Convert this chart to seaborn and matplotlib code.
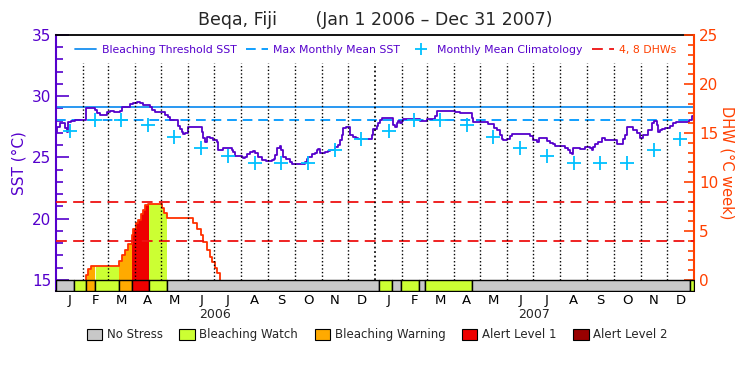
import numpy as np
import pandas as pd
import matplotlib
matplotlib.use("Agg")
import matplotlib.pyplot as plt
import seaborn as sns
from matplotlib.lines import Line2D
from matplotlib.patches import Patch
from matplotlib.ticker import FixedLocator
import matplotlib.transforms as mtrans

# ---- data ----
title = "Beqa, Fiji       (Jan 1 2006 \u2013 Dec 31 2007)"
mmm = 28.1          # max monthly mean SST
threshold = 29.1    # bleaching threshold SST
dhw_lines = [4, 8]

# SST, days since 1 Jan 2006
sst_day = [0, 1.5, 4.6, 10.3, 12.2, 14.1, 17, 21.7, 34.3, 45, 47, 50.3, 54, 58, 62, 66,
           73.2, 75.1, 84.7, 88, 92.3, 96, 99.9, 104, 107.6, 109.5, 113.3, 124.7, 128.5,
           130.4, 140, 141.9, 143.8, 145.7, 148, 151.4, 153, 164.8, 166.5, 168.6, 170.5,
           172.4, 176.2, 180, 183.8, 185.7, 189, 191.4, 201, 202.5, 204.8, 212.4, 214.3,
           216.2, 218, 222, 225.8, 228, 231.5, 235.3, 240, 244.9, 247, 249, 250.6, 252.5,
           256.3, 257.8, 259.4, 263, 267.7, 269.6, 284.9, 286.8, 288.7, 292.6, 296, 298.3,
           300.2, 302.1, 305, 307.8, 311, 313.5, 319.2, 323, 325, 326.9, 328.7, 331.8,
           334.5, 336.4, 340, 343, 345.9, 359.3, 361.2, 363.1, 366.9, 368.8, 370.7, 372.6,
           384.1, 385.9, 387.5, 389.8, 391.5, 393.6, 395.5, 397.4, 414.5, 416.5, 422.2,
           424.1, 431.7, 433.6, 435.6, 456.5, 458.5, 460, 462.2, 473.7, 475.6, 477.5,
           492.8, 494.6, 498.5, 501.1, 504.2, 508, 510, 511.8, 515.7, 519, 521.4, 540.5,
           542.5, 546.2, 550, 553, 557.6, 561.4, 565.2, 569, 570.9, 580.4, 582.4, 586.2,
           588, 590, 591.9, 599.5, 602.6, 605.3, 609.1, 611, 612.9, 614.8, 616.7, 620.5,
           624.4, 628.1, 639.6, 641.5, 647.3, 649, 651, 653.7, 656.8, 660.6, 664.4, 668.2,
           672, 675.9, 677.7, 681.6, 684.2, 687.3, 689.1, 691, 693, 696.8, 700, 702.5,
           706.3, 709.4, 721.6, 724.6, 727.3, 730]
sst_val = [27.05, 27.45, 27.8, 27.4, 27.05, 27.9, 28.0, 28.1, 29.0, 28.85, 28.65, 28.45,
           28.5, 28.7, 28.8, 28.75, 28.8, 29.1, 29.35, 29.45, 29.55, 29.45, 29.3, 29.3,
           29.15, 28.9, 28.74, 28.5, 28.3, 28.06, 27.6, 27.3, 27.1, 26.9, 27.0, 27.46,
           27.5, 27.45, 27.1, 26.6, 26.3, 26.7, 26.62, 26.45, 26.3, 25.6, 25.62, 25.75,
           25.6, 25.45, 25.12, 25.05, 24.93, 25.07, 25.26, 25.47, 25.53, 25.34, 25.07,
           24.8, 24.74, 24.71, 24.8, 24.88, 25.2, 25.75, 25.96, 25.6, 25.07, 24.88, 24.66,
           24.47, 24.6, 24.85, 25.07, 25.26, 25.34, 25.61, 25.7, 25.34, 25.34, 25.47,
           25.5, 25.61, 25.88, 26.02, 26.4, 26.83, 27.38, 27.51, 27.5, 26.83, 26.7, 26.6,
           26.51, 26.51, 26.85, 27.3, 27.6, 27.8, 28.1, 28.25, 28.2, 27.65, 27.5, 27.8,
           27.95, 27.8, 28.0, 28.11, 28.11, 27.95, 27.95, 28.11, 28.15, 28.41, 28.79,
           28.75, 28.7, 28.75, 28.65, 28.6, 28.2, 27.87, 27.87, 27.7, 27.7, 27.38, 27.25,
           26.85, 26.55, 26.43, 26.5, 26.75, 26.89, 26.89, 26.75, 26.43, 26.29, 26.56,
           26.56, 26.35, 26.15, 26.07, 25.97, 25.97, 25.8, 25.6, 25.4, 25.26, 25.75, 25.7,
           25.7, 25.88, 25.88, 25.8, 25.61, 25.88, 26.07, 26.29, 26.56, 26.43, 26.43,
           26.07, 26.07, 26.5, 26.83, 27.46, 27.46, 27.24, 26.97, 26.62, 26.83, 26.83,
           27.24, 27.79, 28.0, 27.65, 27.11, 27.25, 27.32, 27.38, 27.43, 27.6, 27.79,
           27.87, 27.87, 28.06, 28.41, 28.47]

# monthly mean climatology, Jan..Dec
clim_val = [27.16, 28.06, 28.06, 27.65, 26.7, 25.75, 25.15, 24.52, 24.52, 24.52, 25.61, 26.51]

# degree heating weeks (2006 event)
dhw_day = [34.3, 34.3, 37, 39.7, 72.4, 75.5, 78.5, 82, 86.5, 88.5, 91.5, 93.8, 96.9, 99.9,
           102.2, 104.9, 121.3, 123.6, 126.6, 156.4, 161, 165.6, 167.8, 172.4, 176.2,
           178.5, 182.3, 184.6, 187.6]
dhw_val = [0, 0.5, 1.1, 1.45, 1.95, 2.55, 3.1, 3.7, 4.6, 5.2, 5.8, 6.15, 6.7, 7.15, 7.65,
           7.8, 7.3, 6.8, 6.3, 5.8, 5.2, 4.6, 3.9, 3.05, 2.3, 1.8, 1.2, 0.7, 0]

# stress level bar
stress_start = [0, 20.9, 34.3, 45, 72.4, 86.6, 106.7, 127.3, 369.9, 384.8, 395.1, 415.6,
                422.5, 476.3, 725.7]
stress_end = [20.9, 34.3, 45, 72.4, 86.6, 106.7, 127.3, 369.9, 384.8, 395.1, 415.6,
              422.5, 476.3, 725.7, 730]
stress_level = [0, 1, 2, 1, 2, 3, 1, 0, 1, 0, 1, 0, 1, 0, 1]
stress_names = ["No Stress", "Bleaching Watch", "Bleaching Warning", "Alert Level 1", "Alert Level 2"]
stress_colors = ["#c8c8c8", "#ccff33", "#ffaa00", "#ee0000", "#990000"]

month_letters = list("JFMAMJJASOND")
years = ["2006", "2007"]

# ---- colours ----
purple = "#5500cc"
orange = "#ff4000"

sns.set_style("white")
plt.rcParams["font.family"] = ["DejaVu Sans"]

fig = plt.figure(figsize=(7.5, 3.75), dpi=100)
ax = fig.add_axes([56 / 750, 1 - 291 / 375, 638 / 750, 256 / 375])
ax2 = ax.twinx()

# month geometry
t0 = pd.Timestamp("2006-01-01")
mstarts = pd.date_range("2006-01-01", "2008-01-01", freq="MS")
mdays = np.array([(d - t0).days for d in mstarts], dtype=float)
mid = (mdays[:-1] + mdays[1:]) / 2

# SST and climatology
ax.axhline(threshold, color="#1890f0", lw=1.3, zorder=2)
ax.axhline(mmm, color="#10a0ff", lw=1.4, ls=(0, (5, 3)), zorder=2)
sns.lineplot(x=sst_day, y=sst_val, ax=ax, color=purple, lw=1.3,
             drawstyle="steps-post", estimator=None, sort=False, zorder=4)
sns.scatterplot(x=mid, y=clim_val * 2, ax=ax, marker="+", s=90, color="#00c0ff",
                linewidth=1.3, zorder=5)

# DHW fills coloured by stress level
ddays = np.array(dhw_day)
dvals = np.array(dhw_val)
for s, e, lv in zip(stress_start, stress_end, stress_level):
    if lv == 0:
        continue
    g = np.arange(s, e + 0.01, 0.1)
    idx = np.searchsorted(ddays, g, side="right") - 1
    v = np.where(idx >= 0, dvals[np.clip(idx, 0, None)], 0)
    if v.max() > 0:
        ax2.fill_between(g, 0, v, step="post", color=stress_colors[lv], lw=0, zorder=1)
ax2.plot(dhw_day, dhw_val, color="#ff3000", lw=1.3, drawstyle="steps-post", zorder=3)
for lv in dhw_lines:
    ax2.axhline(lv, color="#ee1111", lw=1.3, ls=(0, (6, 3.5)), zorder=3)

# month dotted lines
for d in mdays[1:-1]:
    ax2.vlines(d, 0, 22.1, colors="black", lw=1.25 if d == 365 else 1.0,
               linestyles=(0, (1, 1.6)), zorder=4)

# stress bar
bot = -1.1225
for s, e, lv in zip(stress_start, stress_end, stress_level):
    ax2.broken_barh([(s, e - s)], (bot, -bot), facecolors=stress_colors[lv],
                    edgecolor="black", lw=1.0, zorder=5)

# axes
ax.set_xlim(0, 730)
ax.set_ylim(15 + bot * 0.8, 35)
ax2.set_ylim(bot, 25)

ax.set_yticks([15, 20, 25, 30, 35])
ax.yaxis.set_minor_locator(FixedLocator([v for v in range(15, 36) if v % 5]))
ax.tick_params(axis="y", which="major", direction="in", length=9.5, width=1.2,
               colors=purple, labelsize=11, left=True)
ax.tick_params(axis="y", which="minor", direction="in", length=5, width=1.2,
               colors=purple, left=True)
ax2.set_yticks([0, 5, 10, 15, 20, 25])
ax2.yaxis.set_minor_locator(FixedLocator([v for v in range(0, 26) if v % 5]))
ax2.tick_params(axis="y", which="major", direction="in", length=7.5, width=1.2,
                colors=orange, labelsize=11, right=True)
ax2.tick_params(axis="y", which="minor", direction="in", length=4.5, width=1.2,
                colors=orange, right=True)

ax.set_xticks(mid)
ax.set_xticklabels(month_letters * 2)
ax.tick_params(axis="x", length=0, pad=2, labelsize=9.5, colors="black")
ymark = mtrans.blended_transform_factory(ax.transData, ax.transAxes)
for i, yr in enumerate(years):
    ax.text((mdays[12 * i] + mdays[12 * i + 12]) / 2, -0.09, yr, transform=ymark,
            ha="center", va="center", fontsize=9)

ax.set_ylabel("SST (\u00b0C)", color=purple, fontsize=11, labelpad=4)
ax2.set_ylabel("DHW (\u00b0C week)", color=orange, fontsize=10.5, rotation=270,
               va="bottom", labelpad=1)

for side in ["top", "bottom"]:
    ax.spines[side].set_color("black")
    ax.spines[side].set_linewidth(1.3)
    ax2.spines[side].set_visible(False)
ax.spines["left"].set_color(purple)
ax.spines["left"].set_linewidth(1.5)
ax.spines["right"].set_visible(False)
ax2.spines["left"].set_visible(False)
ax2.spines["right"].set_color(orange)
ax2.spines["right"].set_linewidth(1.5)

# top legend
handles = [
    Line2D([], [], color="#1890f0", lw=1.3),
    Line2D([], [], color="#10a0ff", lw=1.4, ls=(0, (5, 3))),
    Line2D([], [], color="#00c0ff", lw=0, marker="+", ms=9, mew=1.3),
    Line2D([], [], color="#ee1111", lw=1.3, ls=(0, (6, 3.5))),
]
labels = ["Bleaching Threshold SST", "Max Monthly Mean SST", "Monthly Mean Climatology",
          "4, 8 DHWs"]
leg = ax2.legend(handles, labels, loc="center", bbox_to_anchor=(0.501, 0.941), ncol=4,
                 frameon=False, fontsize=7.8, handlelength=2.0, handletextpad=0.5,
                 columnspacing=0.9)
for t, c in zip(leg.get_texts(), [purple, purple, purple, orange]):
    t.set_color(c)

# bottom legend
patches = [Patch(facecolor=c, edgecolor="black", lw=0.8, label=n)
           for c, n in zip(stress_colors, stress_names)]
fig.legend(handles=patches, loc="center", bbox_to_anchor=(0.503, 0.107), ncol=5,
           frameon=False, fontsize=8.5, handlelength=1.3, handleheight=1.1,
           handletextpad=0.4, columnspacing=1.4)

fig.text(0.5, 1 - 20 / 375, title, ha="center", va="center", fontsize=12.5)

fig.savefig("out.png", dpi=100)
